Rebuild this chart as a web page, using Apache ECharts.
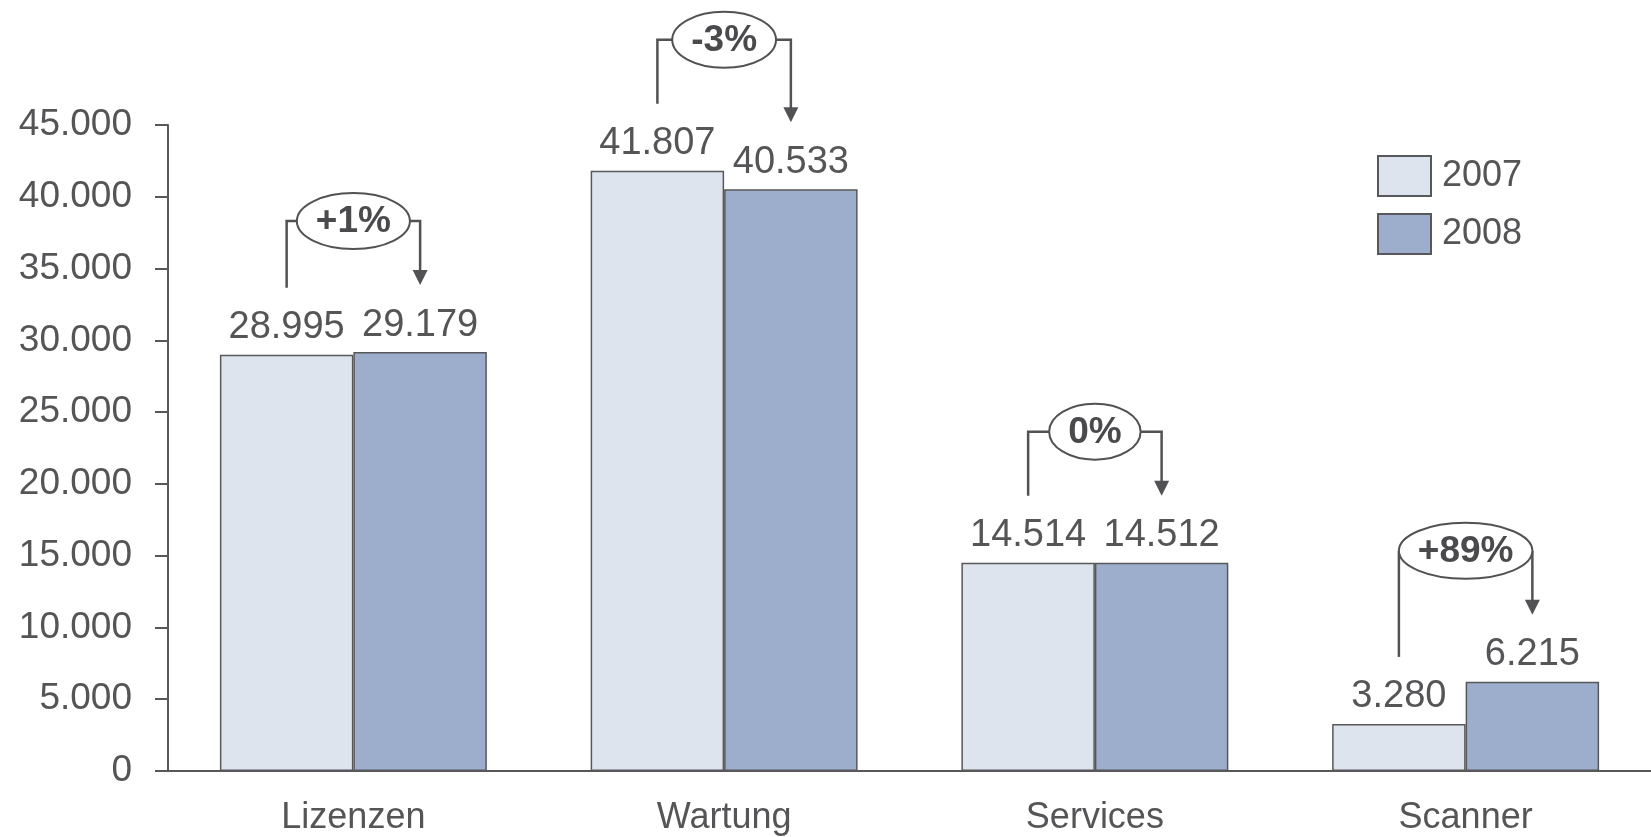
<!DOCTYPE html>
<html>
<head>
<meta charset="utf-8">
<script src="https://cdn.jsdelivr.net/npm/echarts@6/dist/echarts.min.js"></script>
<style>
html,body{margin:0;padding:0;background:#fff;}
#chart{width:1651px;height:837px;}
</style>
</head>
<body>
<div id="chart"></div>
<script>
const categories = ['Lizenzen', 'Wartung', 'Services', 'Scanner'];
const values2007 = [28995, 41807, 14514, 3280];
const values2008 = [29179, 40533, 14512, 6215];
const changeLabels = ['+1%', '-3%', '0%', '+89%'];
const seriesNames = ['2007', '2008'];
const yMin = 0, yMax = 45000, yStep = 5000;

const FONT = '"Liberation Sans", Arial, sans-serif';
const TXT = '#555558';
const LINE = '#525255';

function fmt(v) {
  return String(v).replace(/\B(?=(\d{3})+(?!\d))/g, '.');
}

const measureCtx = document.createElement('canvas').getContext('2d');
function textWidth(t, font) { measureCtx.font = font; return measureCtx.measureText(t).width; }

const chart = echarts.init(document.getElementById('chart'));

const barLabel = {
  show: true, position: 'top', distance: 8,
  fontSize: 38, fontFamily: FONT, color: TXT,
  formatter: p => fmt(p.value)
};

const option = {
  animation: false,
  backgroundColor: '#fff',
  grid: { left: 168, width: 1498, top: 125, bottom: 66, containLabel: false },
  legend: {
    orient: 'vertical', left: 1377, top: 155, padding: 0,
    itemWidth: 53, itemHeight: 40, itemGap: 16,
    icon: 'rect',
    textStyle: { fontSize: 36, fontFamily: FONT, color: TXT, padding: [0, 0, 0, 6] },
    data: seriesNames
  },
  xAxis: {
    type: 'category', data: categories,
    axisLine: { lineStyle: { color: '#58585a', width: 2 } },
    axisTick: { show: false },
    axisLabel: { fontSize: 36, fontFamily: FONT, color: TXT, margin: 29 }
  },
  yAxis: {
    type: 'value', min: yMin, max: yMax, interval: yStep,
    splitLine: { show: false },
    axisLine: { show: true, lineStyle: { color: '#58585a', width: 2 } },
    axisTick: { show: true, length: 13, lineStyle: { color: '#58585a', width: 2 } },
    axisLabel: { fontSize: 37, fontFamily: FONT, color: TXT, margin: 36, formatter: v => fmt(v) }
  },
  series: [
    {
      name: seriesNames[0], type: 'bar', data: values2007,
      barGap: '0%', barCategoryGap: '28%',
      itemStyle: { color: '#dee4ee', borderColor: '#58585a', borderWidth: 1.5 },
      label: barLabel
    },
    {
      name: seriesNames[1], type: 'bar', data: values2008,
      barGap: '0%', barCategoryGap: '28%',
      itemStyle: { color: '#9caecb', borderColor: '#58585a', borderWidth: 1.5 },
      label: barLabel
    },
    {
      type: 'custom', z: 10, silent: true,
      clip: false,
      data: categories.map((c, i) => [i, values2007[i], values2008[i]]),
      encode: { x: 0, y: [1, 2] },
      renderItem: function (params, api) {
        const i = api.value(0), a = api.value(1), b = api.value(2);
        const c = api.coord([i, 0]);
        const band = api.size([1, 0])[0];
        const bw = band * 0.72 / 2;
        const xA = c[0] - bw / 2, xB = c[0] + bw / 2;
        const yA = api.coord([i, a])[1], yB = api.coord([i, b])[1];
        const top = Math.min(yA, yB) - 131;
        const leftBottom = yA - 67;
        const tip = yB - 67;
        const label = changeLabels[params.dataIndex];
        const font = 'bold 37px ' + FONT;
        const w = textWidth(label, font);
        const cx = (xA + xB) / 2;
        const rx = Math.min(w / 2 + 19, (xB - xA) / 2);
        const ry = 28;
        const ls = { stroke: LINE, lineWidth: 2.5, fill: null };
        return {
          type: 'group',
          children: [
            { type: 'polyline', shape: { points: [[xA, leftBottom], [xA, top], [cx - rx, top]] }, style: ls },
            { type: 'polyline', shape: { points: [[cx + rx, top], [xB, top], [xB, tip - 14]] }, style: ls },
            { type: 'polygon', shape: { points: [[xB - 7.5, tip - 15], [xB + 7.5, tip - 15], [xB, tip]] }, style: { fill: LINE } },
            { type: 'ellipse', shape: { cx: cx, cy: top, rx: rx, ry: ry }, style: { fill: '#fff', stroke: LINE, lineWidth: 2 } },
            { type: 'text', style: { text: label, x: cx, y: top + 1, align: 'center', verticalAlign: 'middle', font: font, fill: '#4a4a4d' } }
          ]
        };
      }
    }
  ]
};
chart.setOption(option);
</script>
</body>
</html>
